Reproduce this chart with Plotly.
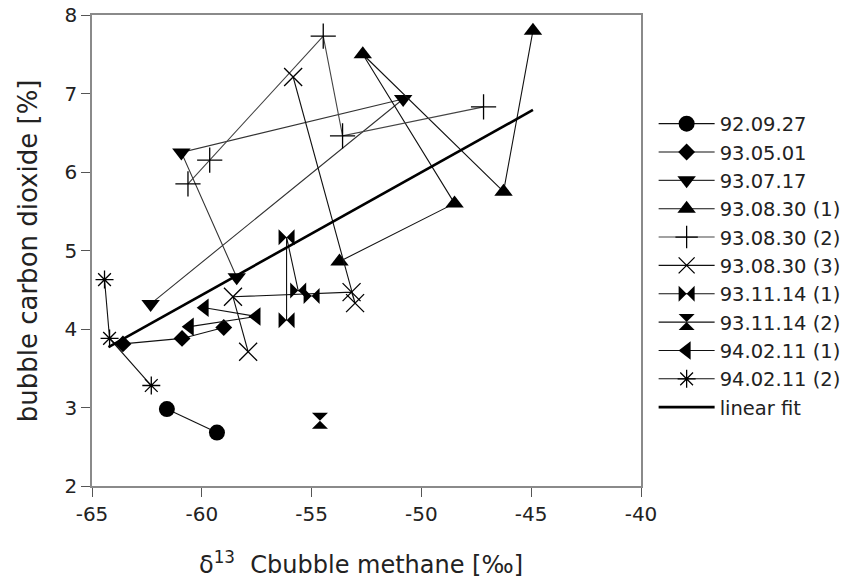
import plotly.graph_objects as go

# ---- data ----
names = ["92.09.27", "93.05.01", "93.07.17", "93.08.30 (1)", "93.08.30 (2)",
         "93.08.30 (3)", "93.11.14 (1)", "93.11.14 (2)", "94.02.11 (1)", "94.02.11 (2)"]

x_920927 = [-61.59, -59.31]
y_920927 = [2.98, 2.68]

x_930501 = [-63.59, -60.90, -59.00]
y_930501 = [3.81, 3.88, 4.02]

x_930717 = [-62.33, -50.83, -60.93, -58.41]
y_930717 = [4.32, 6.93, 6.25, 4.66]

x_930830_1 = [-53.73, -48.49, -52.67, -46.26, -44.92]
y_930830_1 = [4.86, 5.60, 7.50, 5.75, 7.80]

x_930830_2 = [-60.63, -59.64, -54.47, -53.59, -47.17]
y_930830_2 = [5.85, 6.15, 7.73, 6.46, 6.83]

x_930830_3 = [-57.89, -58.58, -53.18, -53.02, -55.84]
y_930830_3 = [3.71, 4.41, 4.47, 4.33, 7.21]

x_931114_1 = [-56.14, -56.14, -55.61, -55.00]
y_931114_1 = [4.11, 5.17, 4.49, 4.42]

x_931114_2 = [-54.62]
y_931114_2 = [2.83]

x_940211_1 = [-59.87, -57.51, -60.55]
y_940211_1 = [4.27, 4.16, 4.03]

x_940211_2 = [-64.43, -64.20, -62.30]
y_940211_2 = [4.63, 3.88, 3.28]

fit_x = [-64.25, -44.92]
fit_y = [3.77, 6.79]

x_ticks = [-65, -60, -55, -50, -45, -40]
x_tick_labels = ["-65", "-60", "-55", "-50", "-45", "-40"]
y_ticks = [2, 3, 4, 5, 6, 7, 8]
y_tick_labels = ["2", "3", "4", "5", "6", "7", "8"]

x_title = "δ<sup>13</sup>  Cbubble methane [‰]"
y_title = "bubble carbon dioxide [%]"

series_x = [x_920927, x_930501, x_930717, x_930830_1, x_930830_2,
            x_930830_3, x_931114_1, x_931114_2, x_940211_1, x_940211_2]
series_y = [y_920927, y_930501, y_930717, y_930830_1, y_930830_2,
            y_930830_3, y_931114_1, y_931114_2, y_940211_1, y_940211_2]

symbols = ["circle", "diamond", "triangle-down", "triangle-up", "cross-thin",
           "x-thin", "bowtie", "hourglass", "triangle-left", "asterisk"]
sizes = [16, 13, 16, 16, 18, 18, 16, 16, 16, 15]
line_colors = ["#111", "#111", "#333", "#111", "#444", "#111", "#111", "#111", "#111", "#111"]

FONT = "DejaVu Sans, Liberation Sans, Arial"

fig = go.Figure()
for nm, xs, ys, sym, sz, lc in zip(names, series_x, series_y, symbols, sizes, line_colors):
    thin = sym in ("cross-thin", "x-thin", "asterisk")
    fig.add_trace(go.Scatter(
        x=xs, y=ys, name=nm, mode="lines+markers",
        line=dict(color=lc, width=1.1),
        marker=dict(symbol=sym, size=sz, color="black",
                    line=dict(color="black", width=1.3 if thin else 0)),
    ))

fig.add_trace(go.Scatter(
    x=fit_x, y=fit_y, name="linear fit", mode="lines",
    line=dict(color="black", width=2.6),
))

axis_common = dict(
    showline=True, linecolor="#8a8a8a", linewidth=1.5, mirror=True,
    ticks="outside", ticklen=9, tickcolor="#555", tickwidth=1.2,
    showgrid=False, zeroline=False, automargin=False,
    tickfont=dict(family=FONT, size=20, color="#222"),
)

fig.update_layout(
    width=847, height=580,
    margin=dict(l=92, r=206, t=15, b=94, autoexpand=False),
    plot_bgcolor="white", paper_bgcolor="white",
    font=dict(family=FONT, color="#222"),
    xaxis=dict(range=[-65, -40], tickvals=x_ticks, ticktext=x_tick_labels, **axis_common),
    yaxis=dict(range=[2, 8], tickvals=y_ticks, ticktext=y_tick_labels, **axis_common),
    legend=dict(x=1.023, y=0.81, xanchor="left", yanchor="top",
                font=dict(family=FONT, size=19.5, color="#222"), itemwidth=56,
                bgcolor="rgba(0,0,0,0)", tracegroupgap=0),
    showlegend=True,
    annotations=[
        dict(text=x_title, xref="paper", yref="paper",
             x=0.49, y=-0.163, xanchor="center", yanchor="middle",
             showarrow=False, font=dict(family=FONT, size=24, color="#222")),
        dict(text=y_title, xref="paper", yref="paper", textangle=-90,
             x=-0.117, y=0.50, xanchor="center", yanchor="middle",
             showarrow=False, font=dict(family=FONT, size=26, color="#222")),
    ],
)

fig.write_html("out.html", config={"displayModeBar": False},
               post_script="document.body.style.margin='0px';")
